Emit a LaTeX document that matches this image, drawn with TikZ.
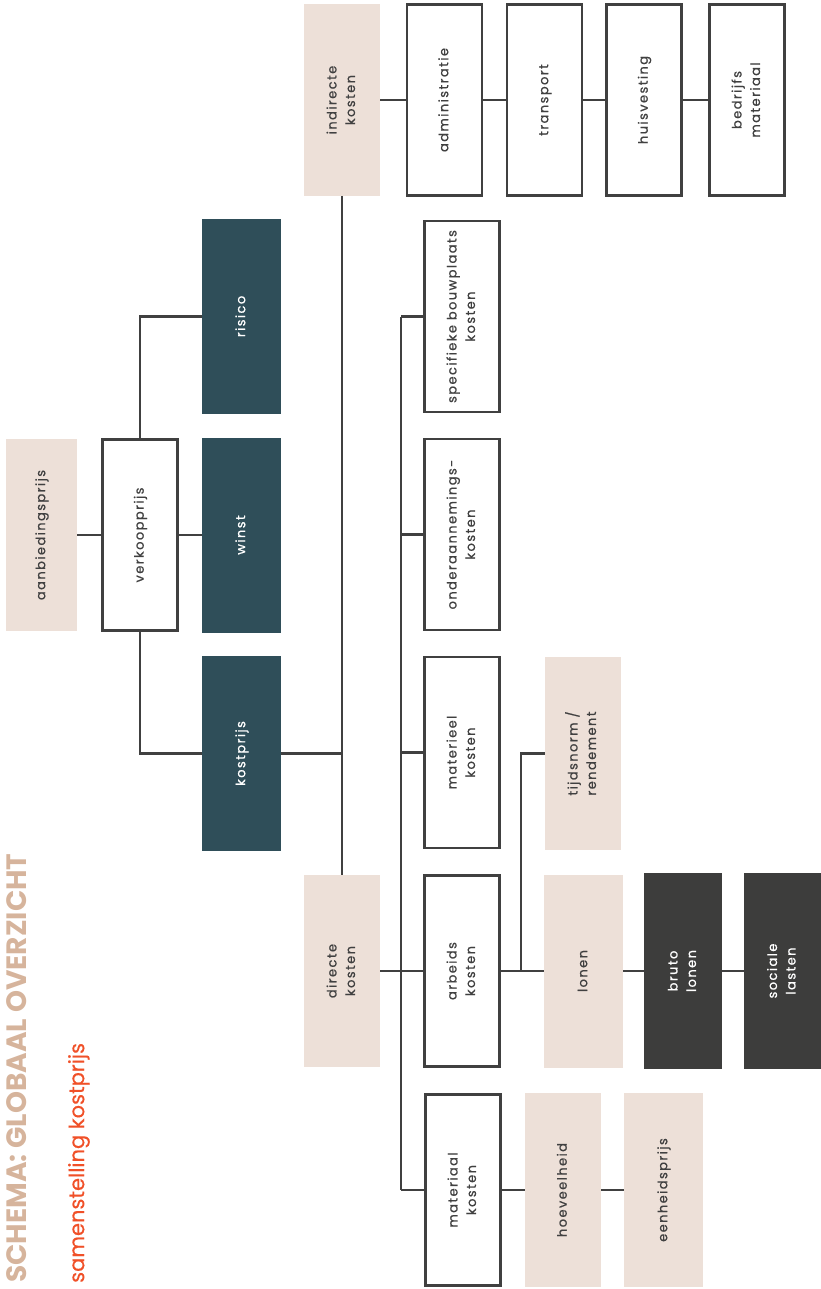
\documentclass[tikz,border=0pt]{standalone}
\usepackage{fontspec}
\setmainfont{Poppins}
\newfontfamily\lab[LetterSpace=11,FakeBold=0.7]{Poppins}
\newfontfamily\subf[FakeBold=0.4]{Poppins}
\definecolor{beige}{RGB}{237,224,216}
\definecolor{tealbox}{RGB}{47,78,89}
\definecolor{darkbox}{RGB}{61,61,60}
\definecolor{lncol}{RGB}{64,64,64}
\definecolor{tancol}{RGB}{214,180,156}
\definecolor{orngcol}{RGB}{240,80,40}
\newcommand{\rt}[1]{\rotatebox{90}{\lab\fontsize{13}{18.5}\selectfont\begin{tabular}{@{}c@{}}#1\end{tabular}}}
\tikzset{
  boxbase/.style={rectangle, inner sep=0pt, outer sep=0pt, minimum width=77pt, minimum height=193pt},
  outl/.style={boxbase, draw=lncol, line width=2.8pt, fill=white, text=lncol, minimum width=75pt, minimum height=191pt},
  beigebox/.style={boxbase, fill=beige, text=lncol},
  tealb/.style={boxbase, fill=tealbox, text=white, minimum width=79pt, minimum height=195pt},
  darkb/.style={boxbase, fill=darkbox, text=white, minimum height=196pt},
  conn/.style={draw=lncol, line width=2.6pt}
}
\begin{document}
\begin{tikzpicture}[x=1pt,y=-1pt]
\useasboundingbox (0,0) rectangle (821,1289);
% title
\node[anchor=south east, inner sep=0pt, text=tancol] (title) at (27,1283)
  {\rotatebox{90}{\fontsize{28}{32}\selectfont\bfseries SCHEMA: GLOBAAL OVERZICHT}};
\node[anchor=south east, inner sep=0pt, text=orngcol] (subtitle) at (90,1283)
  {\rotatebox{90}{\subf\fontsize{21}{24}\selectfont samenstelling kostprijs}};
% top row
\node[beigebox, minimum width=76pt, minimum height=192pt] (ind) at (342,100) {\rt{indirecte\\kosten}};
\node[outl] (adm) at (444.5,100) {\rt{administratie}};
\node[outl] (trans) at (544.5,100) {\rt{transport}};
\node[outl] (huis) at (644,100) {\rt{huisvesting}};
\node[outl] (bedr) at (747,100) {\rt{bedrijfs\\materiaal}};
% left column
\node[beigebox, minimum width=71pt, minimum height=192pt] (aanb) at (41.5,535) {\rt{aanbiedingsprijs}};
\node[outl] (verk) at (140,535) {\rt{verkoopprijs}};
\node[tealb] (risico) at (241.5,316.5) {\rt{risico}};
\node[tealb] (winst) at (241.5,535) {\rt{winst}};
\node[tealb] (kost) at (241.5,753.5) {\rt{kostprijs}};
\node[beigebox, minimum width=76pt, minimum height=192pt] (dir) at (342,971) {\rt{directe\\kosten}};
% direct cost column
\node[outl] (spec) at (462,316.5) {\rt{specifieke bouwplaats\\kosten}};
\node[outl] (onder) at (462,534.5) {\rt{onderaannemings-\\kosten}};
\node[outl] (mtrl) at (462,752.5) {\rt{materieel\\kosten}};
\node[outl] (arb) at (462,971) {\rt{arbeids\\kosten}};
\node[outl] (mtrk) at (463,1190) {\rt{materiaal\\kosten}};
% further
\node[beigebox, minimum width=76pt] (tijd) at (583,753.5) {\rt{tijdsnorm /\\rendement}};
\node[beigebox, minimum width=79pt] (lonen) at (583.5,971) {\rt{lonen}};
\node[darkb, minimum width=78pt] (bruto) at (683,971) {\rt{bruto\\lonen}};
\node[darkb, minimum width=77pt] (soc) at (782.5,971) {\rt{sociale\\lasten}};
\node[beigebox, minimum width=76pt, minimum height=194pt] (hoev) at (563,1190) {\rt{hoeveelheid}};
\node[beigebox, minimum width=79pt, minimum height=194pt] (eenh) at (663.5,1190) {\rt{eenheidsprijs}};
% coordinates for trunks
\coordinate (trA) at (342,0);
\coordinate (trB) at (401,0);
\coordinate (trC) at (521,0);
% connectors
\draw[conn] (ind.east) -- (adm.west);
\draw[conn] (adm.east) -- (trans.west);
\draw[conn] (trans.east) -- (huis.west);
\draw[conn] (huis.east) -- (bedr.west);
\draw[conn] (aanb.east) -- (verk.west);
\draw[conn] (verk.east) -- (winst.west);
\draw[conn] (verk.north) |- (risico.west);
\draw[conn] (verk.south) |- (kost.west);
\draw[conn] (ind.south) -- (dir.north);
\draw[conn] (kost.east) -- (kost.east -| trA);
\draw[conn] (spec.west -| trB) -- (mtrk.west -| trB);
\draw[conn] (dir.east) -- (dir.east -| trB);
\draw[conn] (spec.west) -- (spec.west -| trB);
\draw[conn] (onder.west) -- (onder.west -| trB);
\draw[conn] (mtrl.west) -- (mtrl.west -| trB);
\draw[conn] (arb.west) -- (arb.west -| trB);
\draw[conn] (mtrk.west) -- (mtrk.west -| trB);
\draw[conn] (arb.east) -- (lonen.west);
\draw[conn] (arb.east -| trC) |- (tijd.west);
\draw[conn] (lonen.east) -- (bruto.west);
\draw[conn] (bruto.east) -- (soc.west);
\draw[conn] (mtrk.east) -- (hoev.west);
\draw[conn] (hoev.east) -- (eenh.west);
\end{tikzpicture}
\end{document}
